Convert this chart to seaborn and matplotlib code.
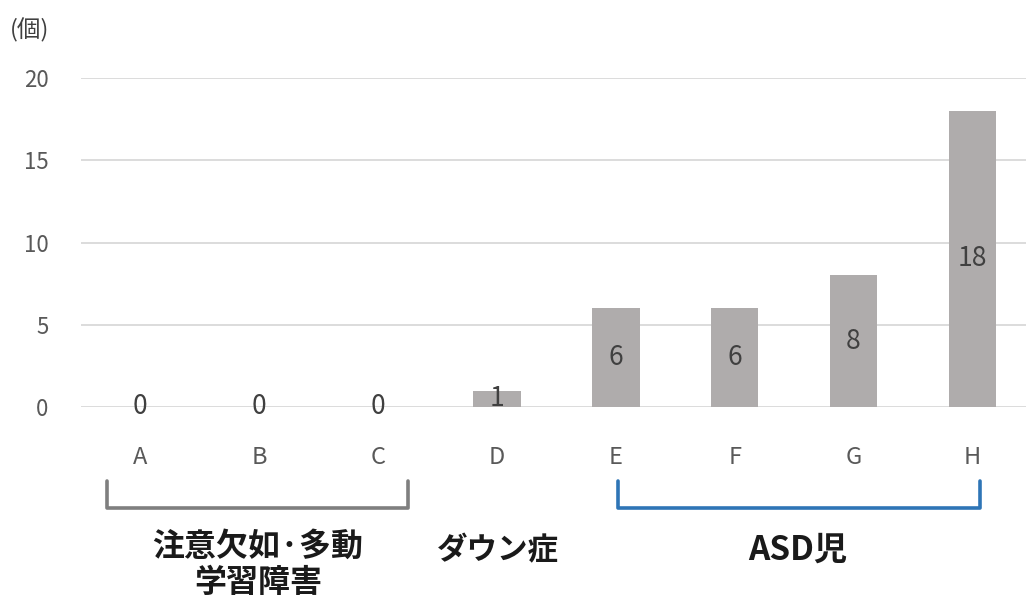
import matplotlib
matplotlib.use("Agg")
import matplotlib.pyplot as plt
import seaborn as sns
import pandas as pd

categories = ["A", "B", "C", "D", "E", "F", "G", "H"]
values = [0, 0, 0, 1, 6, 6, 8, 18]
yticks = [0, 5, 10, 15, 20]
unit_label = "(個)"
group_labels = ["注意欠如·多動\n学習障害", "ダウン症", "ASD児"]

sns.set_theme(style="white")
plt.rcParams['font.family'] = ['Noto Sans CJK JP', 'DejaVu Sans']

df = pd.DataFrame({"cat": categories, "val": values})

fig = plt.figure(figsize=(10.26, 6.0), dpi=100)
ax = fig.add_axes([80.6 / 1026, 1 - 407 / 600, 1 - 80.6 / 1026, (407 - 78) / 600])

sns.barplot(data=df, x="cat", y="val", color="#AFACAC", width=0.4, saturation=1, ax=ax)
for p in ax.patches:
    p.set_edgecolor("none")

ax.set_xlim(-0.5, 7.45)
ax.set_ylim(0, 20)
ax.set_yticks(yticks)
ax.yaxis.grid(True, color="#D9D9D9", linewidth=1.3)
ax.set_axisbelow(True)
for s in ax.spines.values():
    s.set_visible(False)
ax.set_xlabel("")
ax.set_ylabel("")
ax.tick_params(axis="y", length=0, pad=23, labelsize=16, labelcolor="#595959")
ax.tick_params(axis="x", length=0, pad=28, labelsize=17, labelcolor="#595959")

for c in ax.containers:
    ax.bar_label(c, label_type="center", fontsize=19, color="#404040")

fig.text(10 / 1026, 1 - 30 / 600, unit_label, fontsize=17, color="#404040", va="center", ha="left")

# brackets
def bracket(x0, x1, color):
    y0, y1 = 1 - 481 / 600, 1 - 508 / 600
    fig.add_artist(plt.Line2D([x0 / 1026, x0 / 1026, x1 / 1026, x1 / 1026], [y0, y1, y1, y0],
                              color=color, linewidth=2.6, solid_joinstyle="round", solid_capstyle="round"))

bracket(107, 408, "#7F7F7F")
bracket(618, 980, "#2E75B6")

fig.text(258 / 1026, 1 - 565 / 600, group_labels[0], fontsize=23, fontweight="bold", color="#1a1a1a",
         ha="center", va="center", linespacing=1.15)
fig.text(498 / 1026, 1 - 550 / 600, group_labels[1], fontsize=22, fontweight="bold", color="#1a1a1a",
         ha="center", va="center")
fig.text(798 / 1026, 1 - 550 / 600, group_labels[2], fontsize=24, fontweight="bold", color="#1a1a1a",
         ha="center", va="center")

fig.savefig("out.png", dpi=100)
